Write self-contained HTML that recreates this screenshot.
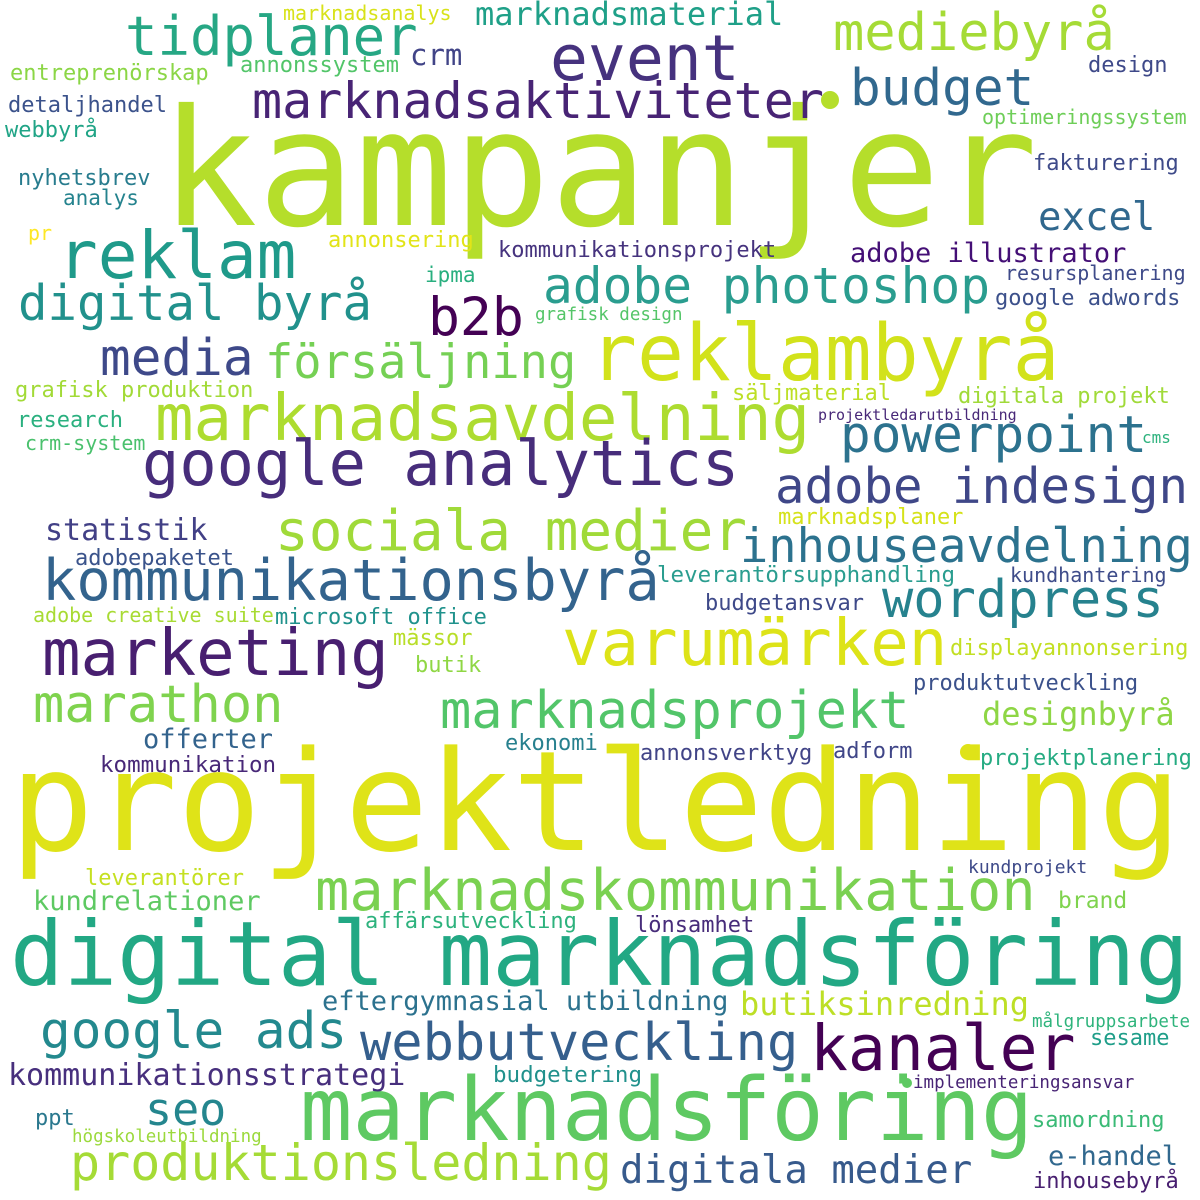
<!DOCTYPE html>
<html><head><meta charset="utf-8">
<style>
html,body{margin:0;padding:0;background:#fff;}
svg{display:block;}
text{font-family:"DejaVu Sans Mono","Liberation Mono",monospace;}
</style></head>
<body>
<svg id="cloud" width="1200" height="1200" viewBox="0 0 1200 1200" xmlns="http://www.w3.org/2000/svg">
<rect width="1200" height="1200" fill="#ffffff"/>
</svg>
<script>
const words = ["kampanjer","projektledning","digital marknadsföring","marknadsföring","marknadskommunikation","reklambyrå","reklam","event","tidplaner","mediebyrå","marknadsaktiviteter","budget","excel","digital byrå","b2b","adobe photoshop","media","försäljning","marknadsavdelning","powerpoint","google analytics","adobe indesign","sociala medier","inhouseavdelning","kommunikationsbyrå","wordpress","marketing","varumärken","marathon","marknadsprojekt","designbyrå","statistik","adobepaketet","adobe creative suite","microsoft office","leverantörsupphandling","kundhantering","marknadsplaner","budgetansvar","mässor","butik","displayannonsering","produktutveckling","offerter","kommunikation","ekonomi","annonsverktyg","adform","projektplanering","leverantörer","kundrelationer","kundprojekt","brand","affärsutveckling","lönsamhet","eftergymnasial utbildning","butiksinredning","google ads","webbutveckling","kanaler","målgruppsarbete","sesame","kommunikationsstrategi","budgetering","implementeringsansvar","seo","ppt","högskoleutbildning","samordning","produktionsledning","digitala medier","e-handel","inhousebyrå","marknadsanalys","marknadsmaterial","entreprenörskap","annonssystem","crm","design","detaljhandel","webbyrå","optimeringssystem","nyhetsbrev","analys","fakturering","pr","annonsering","kommunikationsprojekt","adobe illustrator","resursplanering","ipma","google adwords","grafisk design","grafisk produktion","research","crm-system","säljmaterial","digitala projekt","projektledarutbildning","cms"];
const sizes = [162,139,89,87,57,78,66,63,54,52,50,51,39,49,53,49.5,51,47,64,51,62,49,56,47,57,52,64,64,52,52,32,30,22,20,22,22.5,20,22,22,22,22,22,22,27,22.5,22,22,22,22,22,27,18,23,22,22,27,32,51,52,63,17.5,22,30,22.5,17.5,45,22,17.5,22,50,39,27,22,20,32,22,22,29,22,22,22,20,22,21,22,20,22,22,27,20,21,22,17.5,22,22,20,22,22,15,16];
const colors = ["#b5de2b","#dfe318","#22a884","#5ec962","#7ad151","#d2e21b","#1f9a8a","#46327e","#26a784","#a5db36","#482475","#31688e","#31688e","#21918c","#440154","#2a9d8f","#3e4989","#75d054","#addc30","#2c728e","#472d7b","#3f4788","#a0da39","#2c728e","#33638d","#26828e","#481f70","#dde318","#7fd34e","#52c569","#8ed645","#424086","#3a538b","#a8db34","#20928c","#2a9d8f","#3e4c8a","#d5e21a","#3e4989","#b8de29","#8fd744","#c2df23","#3b518b","#33638d","#482878","#27808e","#414487","#404688","#25ab82","#c5e021","#5ec962","#3e4a89","#7fd34e","#2db27d","#472c7a","#2c728e","#bddf26","#23898e","#355f8d","#440154","#2fb47c","#1f9e89","#472f7d","#21918c","#482475","#24868e","#2a788e","#9bd93c","#3aba76","#a5db36","#375a8c","#31688e","#481f70","#d8e219","#1fa088","#8bd646","#52c569","#414487","#3e4989","#3b528b","#20a486","#6ece58","#287c8e","#25838e","#3e4a89","#fde725","#e2e418","#46337e","#440f76","#3e4a89","#29af7f","#3c508b","#54c568","#a2da37","#2ab07f","#4ac16d","#bddf26","#a0da39","#482878","#2db27d"];
const xs = [160,10,10,300,315,590,58,550,125,833,252,850,1038,18,428,543,100,265,155,840,142,775,275,740,42,882,42,562,33,440,982,45,75,33,275,657,1010,778,705,393,415,950,913,143,100,505,640,833,980,85,33,968,1058,365,635,322,740,40,360,810,1032,1090,8,493,913,145,35,72,1032,70,620,1048,1033,283,475,10,240,410,1088,8,5,982,18,63,1033,28,328,498,850,1005,425,995,535,15,17,25,732,958,818,1142];
const ys = [225,850,985,1140,910,380,278,80,55,50,118,105,230,320,335,303,375,378,440,452,485,503,550,562,600,617,675,665,722,728,725,540,565,622,624,582,582,524,610,645,672,655,690,748,772,750,760,758,765,885,910,873,908,928,932,1010,1015,1048,1060,1070,1027,1045,1085,1082,1088,1125,1125,1142,1127,1180,1183,1165,1188,20,25,80,72,65,72,112,137,124,185,205,170,240,247,257,262,280,282,305,320,397,427,450,400,403,420,443];
const dotX = [830,968,907];
const dotY = [100,752,1083];
const dotR = [9,8,5];
const dotColors = ["#b5de2b","#dfe318","#5ec962"];

const svg = document.getElementById('cloud');
const NS = 'http://www.w3.org/2000/svg';
for (let i = 0; i < words.length; i++) {
  const t = document.createElementNS(NS, 'text');
  t.setAttribute('x', xs[i]);
  t.setAttribute('y', ys[i]);
  t.setAttribute('font-size', sizes[i]);
  t.setAttribute('fill', colors[i]);
  t.textContent = words[i];
  
  
  svg.appendChild(t);
}
for (let i = 0; i < dotX.length; i++) {
  const c = document.createElementNS(NS, 'circle');
  c.setAttribute('cx', dotX[i]);
  c.setAttribute('cy', dotY[i]);
  c.setAttribute('r', dotR[i]);
  c.setAttribute('fill', dotColors[i]);
  
  
  svg.appendChild(c);
}
</script>
</body></html>
